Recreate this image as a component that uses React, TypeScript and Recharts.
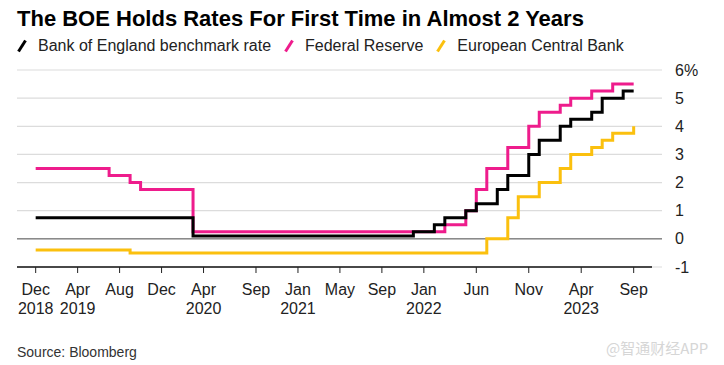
import React from 'react';
import { LineChart, Line, XAxis, YAxis, CartesianGrid, ReferenceLine } from 'recharts';

// month index counted from Dec 2018 (0) to Sep 2023 (57)
const boeMonths = [0, 15, 36, 38, 39, 41, 42, 44, 45, 47, 48, 50, 51, 53, 54, 56, 57];
const boeRates = [0.75, 0.1, 0.25, 0.5, 0.75, 1.0, 1.25, 1.75, 2.25, 3.0, 3.5, 4.0, 4.25, 4.5, 5.0, 5.25, 5.25];

const fedMonths = [0, 7, 9, 10, 15, 39, 41, 42, 43, 45, 47, 48, 50, 51, 53, 55, 57];
const fedRates = [2.5, 2.25, 2.0, 1.75, 0.25, 0.5, 1.0, 1.75, 2.5, 3.25, 4.0, 4.5, 4.75, 5.0, 5.25, 5.5, 5.5];

const ecbMonths = [0, 9, 43, 45, 46, 48, 50, 51, 53, 54, 55, 57];
const ecbRates = [-0.4, -0.5, 0.0, 0.75, 1.5, 2.0, 2.5, 3.0, 3.25, 3.5, 3.75, 4.0];

const tickMonths = [0, 4, 8, 12, 16, 21, 25, 29, 33, 37, 42, 47, 52, 57];
const tickMonthLabels = ['Dec', 'Apr', 'Aug', 'Dec', 'Apr', 'Sep', 'Jan', 'May', 'Sep', 'Jan', 'Jun', 'Nov', 'Apr', 'Sep'];
const tickYearLabels = ['2018', '2019', '', '', '2020', '', '2021', '', '', '2022', '', '', '2023', ''];
const yTicks = [-1, 0, 1, 2, 3, 4, 5, 6];

const BLACK = '#000000';
const PINK = '#ee1c8c';
const YELLOW = '#fbc00e';
const FONT = '"Liberation Sans", Arial, sans-serif';

const toPoints = (months: number[], rates: number[]) => months.map((m, i) => ({ m, v: rates[i] }));
const boe = toPoints(boeMonths, boeRates);
const fed = toPoints(fedMonths, fedRates);
const ecb = toPoints(ecbMonths, ecbRates);

const X_MIN = -1.78;
const X_MAX = 59.7;
const AXIS_END = 58.75;

const XTick = (props: any) => {
    const { x, y, payload } = props;
    const i = tickMonths.indexOf(payload.value);
    return (
        <g>
            <text x={x} y={y + 19.5} textAnchor="middle" fontSize={16} fill="#222" fontFamily={FONT}>{tickMonthLabels[i]}</text>
            <text x={x} y={y + 38.5} textAnchor="middle" fontSize={16} fill="#222" fontFamily={FONT}>{tickYearLabels[i]}</text>
        </g>
    );
};

const YTick = (props: any) => {
    const { y, payload, x } = props;
    const label = payload.value === 6 ? '6%' : String(payload.value);
    return (
        <text x={x + 5} y={y + 5.5} textAnchor="start" fontSize={16} fill="#222" fontFamily={FONT}>{label}</text>
    );
};

const Slash = ({ color }: { color: string }) => (
    <svg width={10} height={14} style={{ display: 'block' }}>
        <line x1={1.5} y1={12.5} x2={8.5} y2={1.5} stroke={color} strokeWidth={3} />
    </svg>
);

const legendItems = [
    { name: 'Bank of England benchmark rate', color: BLACK },
    { name: 'Federal Reserve', color: PINK },
    { name: 'European Central Bank', color: YELLOW },
];

export default function App() {
    return (
        <div style={{ position: 'relative', width: 724, height: 365, background: '#fff', fontFamily: FONT, overflow: 'hidden' }}>
            <style>{'body{margin:0;}'}</style>
            <div style={{ position: 'absolute', left: 17, top: 8.4, fontSize: 22, lineHeight: '22px', fontWeight: 700, color: '#000', whiteSpace: 'nowrap' }}>
                The BOE Holds Rates For First Time in Almost 2 Years
            </div>
            <div style={{ position: 'absolute', left: 17, top: 38, display: 'flex', alignItems: 'center', fontSize: 16, lineHeight: '16px', color: '#222', whiteSpace: 'nowrap' }}>
                {legendItems.map((it) => (
                    <div key={it.name} style={{ display: 'flex', alignItems: 'center', marginRight: 13 }}>
                        <Slash color={it.color} />
                        <span style={{ marginLeft: 11 }}>{it.name}</span>
                    </div>
                ))}
            </div>
            <LineChart width={724} height={365} margin={{ top: 70, right: 0, left: 17, bottom: 0 }}>
                <CartesianGrid vertical={false} stroke="#dcdcdc" strokeWidth={1.2} />
                <XAxis
                    dataKey="m"
                    type="number"
                    domain={[X_MIN, X_MAX]}
                    ticks={tickMonths}
                    interval={0}
                    allowDataOverflow
                    axisLine={false}
                    tickLine={{ stroke: '#222', strokeWidth: 1 }}
                    tickSize={6}
                    tick={<XTick />}
                    height={98}
                />
                <YAxis
                    orientation="right"
                    type="number"
                    domain={[-1, 6]}
                    ticks={yTicks}
                    interval={0}
                    axisLine={false}
                    tickLine={false}
                    tick={<YTick />}
                    width={62}
                />
                <ReferenceLine y={0} stroke="#8a8a8a" strokeWidth={1.5} />
                <ReferenceLine segment={[{ x: X_MIN, y: -1 }, { x: AXIS_END, y: -1 }]} stroke="#111" strokeWidth={1.5} />
                <Line data={ecb} dataKey="v" type="stepAfter" stroke={YELLOW} strokeWidth={3} dot={false} isAnimationActive={false} />
                <Line data={fed} dataKey="v" type="stepAfter" stroke={PINK} strokeWidth={3} dot={false} isAnimationActive={false} />
                <Line data={boe} dataKey="v" type="stepAfter" stroke={BLACK} strokeWidth={3} dot={false} isAnimationActive={false} />
            </LineChart>
            <div style={{ position: 'absolute', left: 17, top: 345, fontSize: 14, lineHeight: '14px', color: '#333' }}>
                Source: Bloomberg
            </div>
            <div style={{ position: 'absolute', left: 606, top: 340, fontSize: 15, lineHeight: '15px', color: '#d6d6d6', fontFamily: '"Noto Sans CJK SC", sans-serif', whiteSpace: 'nowrap' }}>
                @智通财经APP
            </div>
        </div>
    );
}
